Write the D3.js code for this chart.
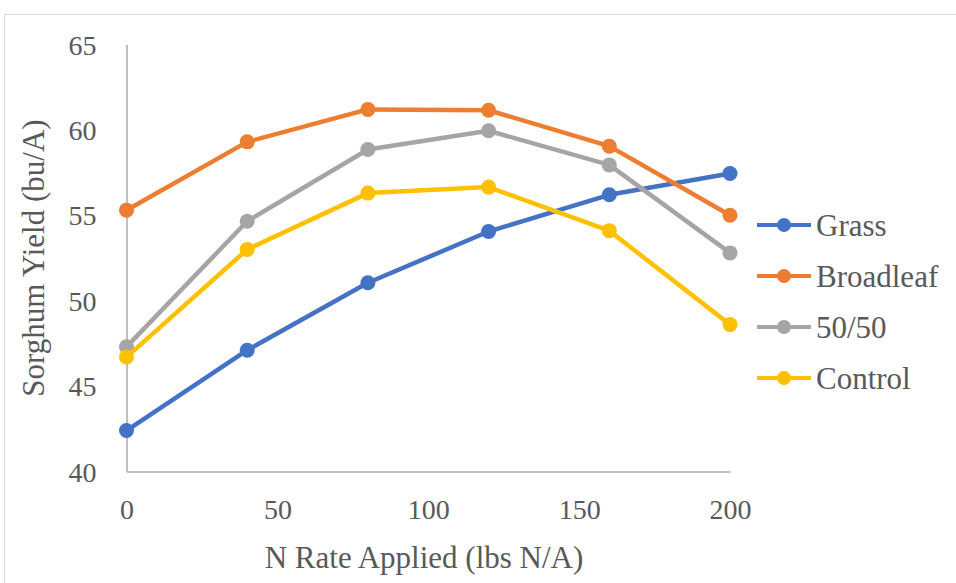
<!DOCTYPE html>
<html>
<head>
<meta charset="utf-8">
<script src="https://cdn.jsdelivr.net/npm/d3@7"></script>
<style>
  body { margin: 0; background: #fff; }
  svg { display: block; font-family: "Liberation Serif", "Times New Roman", serif; }
  svg text { font-family: "Liberation Serif", "Times New Roman", serif; }
</style>
</head>
<body>
<div id="chart"></div>
<script>
const nRates = [0, 40, 80, 120, 160, 200];
const grass = [42.4, 47.1, 51.05, 54.05, 56.2, 57.45];
const broadleaf = [55.3, 59.3, 61.2, 61.15, 59.05, 55.0];
const fiftyFifty = [47.3, 54.65, 58.85, 59.95, 57.95, 52.8];
const control = [46.7, 53.0, 56.3, 56.65, 54.1, 48.6];
const seriesNames = ["Grass", "Broadleaf", "50/50", "Control"];
const seriesColors = ["#4472C4", "#ED7D31", "#A5A5A5", "#FFC000"];
const xTicks = [0, 50, 100, 150, 200];
const yTicks = [40, 45, 50, 55, 60, 65];

const width = 956, height = 583;
const allSeries = [grass, broadleaf, fiftyFifty, control];

const svg = d3.select("#chart").append("svg")
    .attr("width", width)
    .attr("height", height);

// chart frame (runs off the right and bottom edges)
svg.append("rect")
    .attr("x", 4.5).attr("y", 14.5)
    .attr("width", 1000).attr("height", 1000)
    .attr("fill", "none")
    .attr("stroke", "#d9d9d9");

const x = d3.scaleLinear().domain([0, 200]).range([126.5, 730]);
const y = d3.scaleLinear().domain([40, 65]).range([471.5, 44.5]);

// axes
const xAxis = svg.append("g")
    .attr("transform", `translate(0,${y(40)})`)
    .call(d3.axisBottom(x).tickValues(xTicks).tickSize(0).tickPadding(28));
const yAxis = svg.append("g")
    .attr("transform", `translate(${x(0)},0)`)
    .call(d3.axisLeft(y).tickValues(yTicks).tickSize(0).tickPadding(30));

[xAxis, yAxis].forEach(a => {
    a.attr("font-family", "Liberation Serif").attr("font-size", 28);
    a.select(".domain").attr("stroke", "#bfbfbf").attr("stroke-width", 2);
    a.selectAll("text").attr("fill", "#595959");
});
yAxis.selectAll("text").attr("dy", "0.34em");

// titles
svg.append("text")
    .attr("x", 424).attr("y", 568)
    .attr("text-anchor", "middle")
    .attr("fill", "#595959")
    .style("font-size", "31px")
    .text("N Rate Applied (lbs N/A)");

svg.append("text")
    .attr("transform", "translate(44,258) rotate(-90)")
    .attr("text-anchor", "middle")
    .attr("fill", "#595959")
    .style("font-size", "31px")
    .text("Sorghum Yield (bu/A)");

// series
const line = d3.line()
    .x((d, i) => x(nRates[i]))
    .y(d => y(d));

allSeries.forEach((vals, k) => {
    const g = svg.append("g");
    g.append("path")
        .datum(vals)
        .attr("d", line)
        .attr("fill", "none")
        .attr("stroke", seriesColors[k])
        .attr("stroke-width", 4.5)
        .attr("stroke-linejoin", "round");
    g.selectAll("circle")
        .data(vals)
        .join("circle")
        .attr("cx", (d, i) => x(nRates[i]))
        .attr("cy", d => y(d))
        .attr("r", 7.5)
        .attr("fill", seriesColors[k]);
});

// legend
const legend = svg.append("g")
    .selectAll("g")
    .data(seriesNames)
    .join("g")
    .attr("transform", (d, i) => `translate(757,${225 + i * 51})`);

legend.append("line")
    .attr("x1", 0).attr("x2", 54)
    .attr("stroke", (d, i) => seriesColors[i])
    .attr("stroke-width", 4);
legend.append("circle")
    .attr("cx", 27)
    .attr("r", 7)
    .attr("fill", (d, i) => seriesColors[i]);
legend.append("text")
    .attr("x", 59)
    .attr("dy", "0.34em")
    .attr("fill", "#595959")
    .style("font-size", "31px")
    .text(d => d);
</script>
</body>
</html>
